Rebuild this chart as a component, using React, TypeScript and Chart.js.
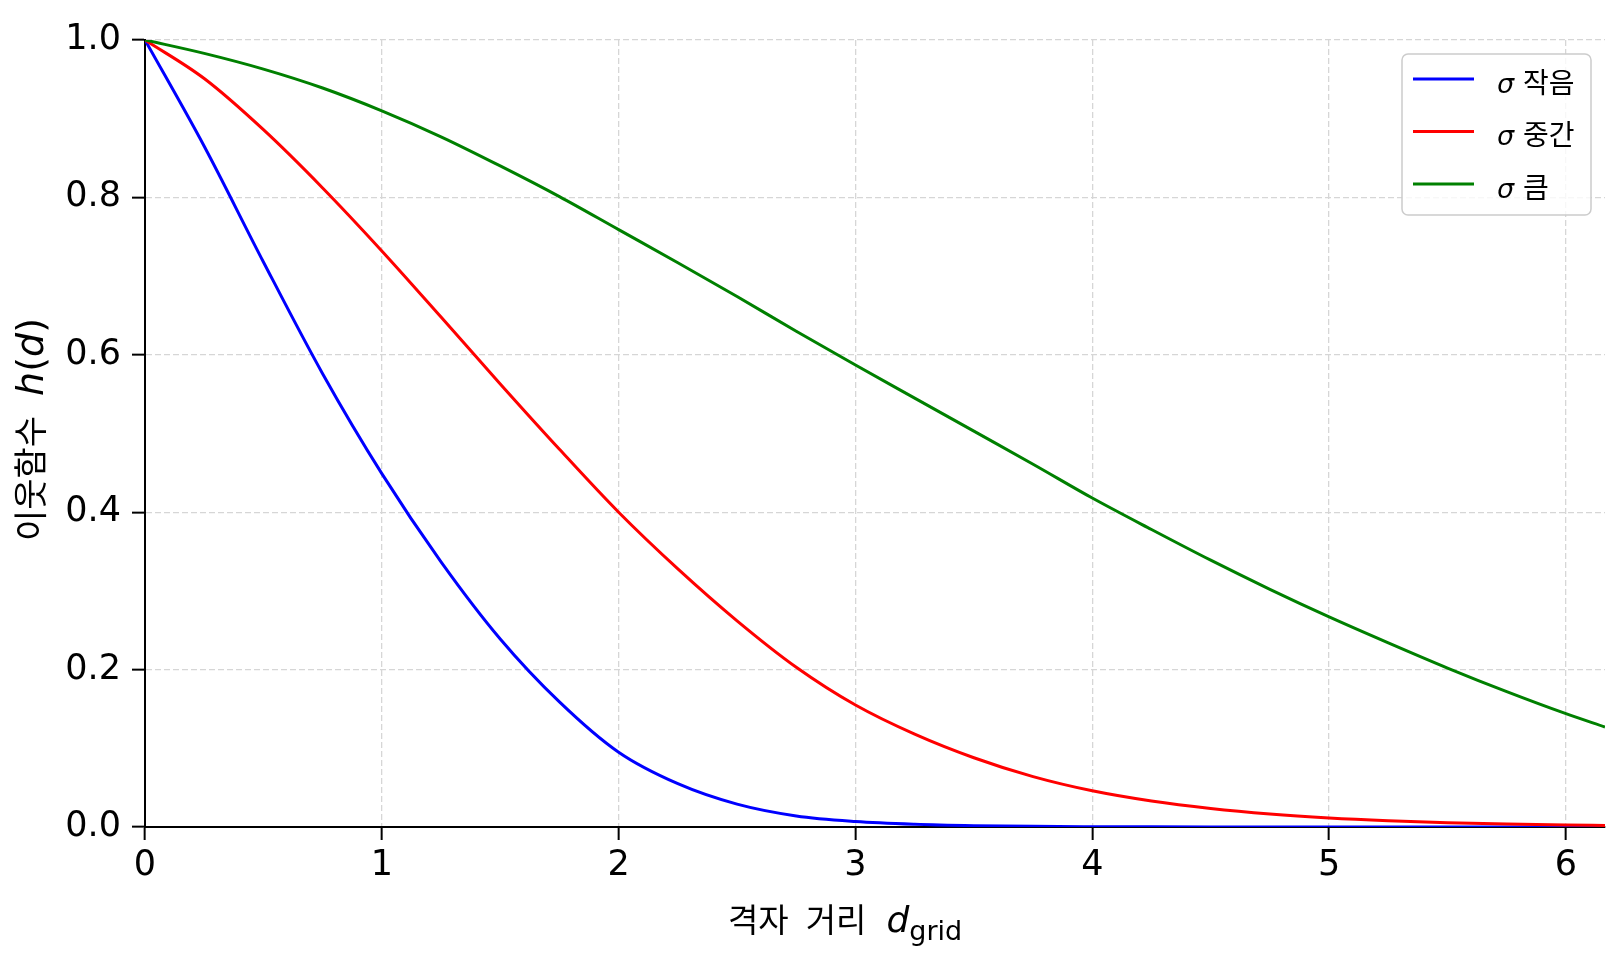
import { useEffect, useRef } from 'react';
import Chart from 'chart.js/auto';

// grid distance samples and neighbourhood values
const distance = [0, 0.25, 0.5, 0.75, 1, 1.25, 1.5, 1.75, 2, 2.25, 2.5, 2.75, 3, 3.25, 3.5, 3.75, 4, 4.25, 4.5, 4.75, 5, 5.25, 5.5, 5.75, 6, 6.165];
const sigmaSmall = [1, 0.865, 0.718, 0.576, 0.449, 0.337, 0.239, 0.159, 0.095, 0.055, 0.029, 0.014, 0.007, 0.0035, 0.0017, 0.0008, 0.0004, 0.0002, 0.0001, 0, 0, 0, 0, 0, 0, 0];
const sigmaMid = [1, 0.951, 0.886, 0.812, 0.732, 0.648, 0.563, 0.48, 0.4, 0.328, 0.262, 0.203, 0.155, 0.118, 0.088, 0.064, 0.046, 0.033, 0.0235, 0.0165, 0.0115, 0.008, 0.0055, 0.0037, 0.0025, 0.002];
const sigmaLarge = [1, 0.983, 0.963, 0.939, 0.91, 0.877, 0.84, 0.801, 0.759, 0.717, 0.674, 0.63, 0.587, 0.545, 0.503, 0.461, 0.418, 0.378, 0.339, 0.302, 0.267, 0.234, 0.202, 0.172, 0.144, 0.127];

const xTicks = [0, 1, 2, 3, 4, 5, 6];
const yTicks = [0, 0.2, 0.4, 0.6, 0.8, 1.0];
const seriesNames = ['작음', '중간', '큼'];
const seriesColors = ['#0000ff', '#ff0000', '#008000'];
const xLabelWords = ['격자', '거리'];
const yLabelWord = '이웃함수';

const KR = '"Noto Sans CJK KR"';
const LATIN = '"DejaVu Sans"';

type Run = { text?: string; font?: string; dy?: number; gap?: number };

function drawRuns(ctx: CanvasRenderingContext2D, runs: Run[], x: number, y: number) {
  let cx = x;
  for (const r of runs) {
    if (r.gap) {
      cx += r.gap;
      continue;
    }
    ctx.font = r.font!;
    ctx.fillText(r.text!, cx, y + (r.dy || 0));
    cx += ctx.measureText(r.text!).width;
  }
}

const labelsPlugin = {
  id: 'matplotlibText',
  afterDraw(chart: any) {
    const { ctx, chartArea } = chart;
    ctx.save();
    ctx.fillStyle = '#000';
    ctx.textBaseline = 'alphabetic';
    ctx.textAlign = 'left';

    // x axis title
    drawRuns(ctx, [
      { text: xLabelWords[0], font: `33px ${KR}` },
      { gap: 17 },
      { text: xLabelWords[1], font: `33px ${KR}` },
      { gap: 20 },
      { text: 'd', font: `italic 36px ${LATIN}` },
      { text: 'grid', font: `27px ${LATIN}`, dy: 8 },
    ], 728, 932);

    // y axis title (rotated)
    ctx.translate(31, 541);
    ctx.rotate(-Math.PI / 2);
    drawRuns(ctx, [
      { text: yLabelWord, font: `34px ${KR}` },
      { gap: 20 },
      { text: 'h', font: `italic 38px ${LATIN}` },
      { text: '(', font: `38px ${LATIN}` },
      { text: 'd', font: `italic 38px ${LATIN}` },
      { text: ')', font: `38px ${LATIN}` },
    ], 0, 12);
    ctx.setTransform(1, 0, 0, 1, 0, 0);

    // legend box
    const boxW = 189;
    const boxH = 161;
    const bx = chartArea.right - 14 - boxW;
    const by = chartArea.top + 14;
    ctx.beginPath();
    ctx.roundRect(bx, by, boxW, boxH, 6);
    ctx.fillStyle = 'rgba(255,255,255,0.8)';
    ctx.fill();
    ctx.lineWidth = 1.5;
    ctx.strokeStyle = '#cccccc';
    ctx.stroke();

    seriesNames.forEach((name, i) => {
      const ly = by + 25 + i * 52.5;
      ctx.beginPath();
      ctx.moveTo(bx + 11, ly);
      ctx.lineTo(bx + 72, ly);
      ctx.lineWidth = 3;
      ctx.strokeStyle = seriesColors[i];
      ctx.stroke();
      ctx.fillStyle = '#000';
      drawRuns(ctx, [
        { text: 'σ', font: `italic 27px ${LATIN}` },
        { gap: 9 },
        { text: name, font: `28px ${KR}` },
      ], bx + 95, ly + 13.5);
    });
    ctx.restore();
  },
};

const tickFont = { family: 'DejaVu Sans', size: 35 };
const gridStyle = {
  color: '#d6d6d6',
  lineWidth: 1.3,
  tickColor: '#000',
  tickWidth: 2,
  tickLength: 13,
  tickBorderDash: [],
};
const borderStyle = { display: true, color: '#000', width: 2, dash: [6, 3] };

export default function App() {
  const ref = useRef<HTMLCanvasElement | null>(null);

  useEffect(() => {
    document.body.style.margin = '0';
    if (!ref.current) return;
    const series = [sigmaSmall, sigmaMid, sigmaLarge];
    const chart = new Chart(ref.current, {
      type: 'line',
      data: {
        datasets: series.map((values, i) => ({
          label: `σ ${seriesNames[i]}`,
          data: distance.map((d, j) => ({ x: d, y: values[j] })),
          borderColor: seriesColors[i],
          borderWidth: 3,
          pointRadius: 0,
          fill: false,
          cubicInterpolationMode: 'monotone' as const,
          order: 2 - i,
        })),
      },
      options: {
        animation: false,
        responsive: true,
        maintainAspectRatio: false,
        layout: { padding: { top: 40, right: 19, left: 0, bottom: 0 } },
        plugins: {
          legend: { display: false },
          tooltip: { enabled: false },
        },
        scales: {
          x: {
            type: 'linear',
            min: 0,
            max: distance[distance.length - 1],
            afterBuildTicks: (scale: any) => {
              scale.ticks = xTicks.map((value) => ({ value }));
            },
            afterFit: (scale: any) => {
              scale.height = 142;
            },
            ticks: {
              autoSkip: false,
              maxRotation: 0,
              padding: 5,
              color: '#000',
              font: tickFont,
              callback: (v: any) => String(v),
            },
            grid: gridStyle,
            border: borderStyle,
          },
          y: {
            min: 0,
            max: 1,
            afterBuildTicks: (scale: any) => {
              scale.ticks = yTicks.map((value) => ({ value }));
            },
            afterFit: (scale: any) => {
              scale.width = 145;
            },
            ticks: {
              padding: 11,
              color: '#000',
              font: tickFont,
              callback: (v: any) => Number(v).toFixed(1),
            },
            grid: gridStyle,
            border: borderStyle,
          },
        },
      },
      plugins: [labelsPlugin],
    });
    return () => chart.destroy();
  }, []);

  return (
    <div style={{ width: 1624, height: 969, position: 'relative', background: '#fff' }}>
      <canvas ref={ref} aria-label="이웃함수 h(d) 대 격자 거리" />
    </div>
  );
}
